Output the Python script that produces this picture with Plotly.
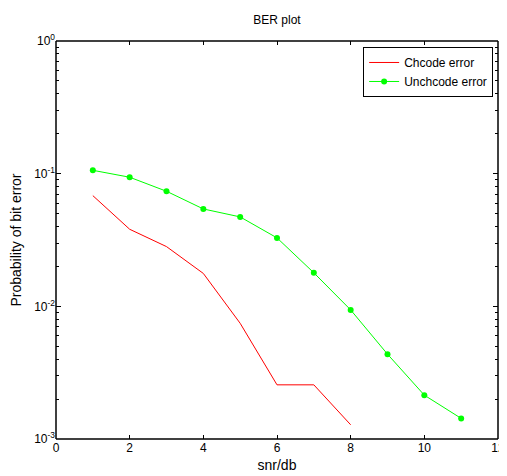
import plotly.graph_objects as go

snr = [1, 2, 3, 4, 5, 6, 7, 8, 9, 10, 11]
chcode_snr = [1, 2, 3, 4, 5, 6, 7, 8]
chcode_err = [0.0683, 0.0381, 0.0282, 0.0177, 0.00745, 0.00256, 0.00256, 0.00128]
unchcode_err = [0.106, 0.094, 0.0737, 0.0542, 0.0472, 0.0328, 0.0179, 0.0094, 0.00436, 0.00214, 0.00143]

x_ticks = [0, 2, 4, 6, 8, 10, 12]
y_tickvals = [1e-3, 1e-2, 1e-1, 1]
y_ticktext = ["10<sup>-3</sup>", "10<sup>-2</sup>", "10<sup>-1</sup>", "10<sup>0</sup>"]
y_minor = [m * 10.0 ** e for e in (-3, -2, -1) for m in range(2, 10)]

font = "Liberation Sans, Arial, sans-serif"
H = 476

fig = go.Figure()
fig.add_trace(go.Scatter(x=chcode_snr, y=chcode_err, mode="lines", name="Chcode error",
                         line=dict(color="#ff0000", width=1)))
fig.add_trace(go.Scatter(x=snr, y=unchcode_err, mode="lines+markers", name="Unchcode error",
                         line=dict(color="#00ff00", width=1),
                         marker=dict(color="#00ff00", size=6)))
# invisible helper trace so the minor-tick overlay axis is drawn
fig.add_trace(go.Scatter(x=chcode_snr, y=chcode_err, mode="lines", yaxis="y2",
                         line=dict(width=0), opacity=0, showlegend=False, hoverinfo="skip"))

frame_line = dict(color="black", width=1.5)
frame = [
    dict(type="line", xref="paper", yref="paper", x0=0, x1=1, y0=0, y1=0, line=frame_line, layer="above"),
    dict(type="line", xref="paper", yref="paper", x0=0, x1=1, y0=1, y1=1, line=frame_line, layer="above"),
    dict(type="line", xref="paper", yref="paper", x0=0, x1=0, y0=0, y1=1, line=frame_line, layer="above"),
    dict(type="line", xref="paper", yref="paper", x0=1, x1=1, y0=0, y1=1, line=frame_line, layer="above"),
]

fig.update_layout(
    width=507, height=H,
    margin=dict(l=48, r=17, t=33, b=45, autoexpand=False),
    paper_bgcolor="white", plot_bgcolor="white",
    font=dict(family=font, size=12, color="black"),
    title=dict(text="BER plot", x=0.5, xref="paper", xanchor="center",
               y=1 - 12 / H, yanchor="middle", font=dict(size=12)),
    showlegend=True,
    legend=dict(x=0.989, y=0.985, xanchor="right", yanchor="top",
                bordercolor="black", borderwidth=1, bgcolor="white",
                font=dict(size=12), tracegroupgap=0),
    shapes=frame,
    xaxis=dict(
        range=[0, 12], tickvals=x_ticks, ticks="inside", ticklen=4, tickcolor="black",
        showline=False, mirror="ticks",
        showgrid=False, zeroline=False, automargin=False,
        title=dict(text="snr/db", standoff=6),
    ),
    yaxis=dict(
        type="log", range=[-3, 0], tickvals=y_tickvals, ticktext=y_ticktext,
        ticks="inside", ticklen=5, tickcolor="black",
        showline=False, mirror="ticks",
        showgrid=False, zeroline=False, automargin=False,
        title=dict(text="Probability of bit error", standoff=10),
    ),
    yaxis2=dict(
        type="log", range=[-3, 0], overlaying="y", side="left",
        tickvals=y_minor, ticktext=[""] * len(y_minor),
        ticks="inside", ticklen=3, tickcolor="black", mirror="ticks",
        showline=False, showgrid=False, zeroline=False, automargin=False,
    ),
)
fig.write_html("out.html")
